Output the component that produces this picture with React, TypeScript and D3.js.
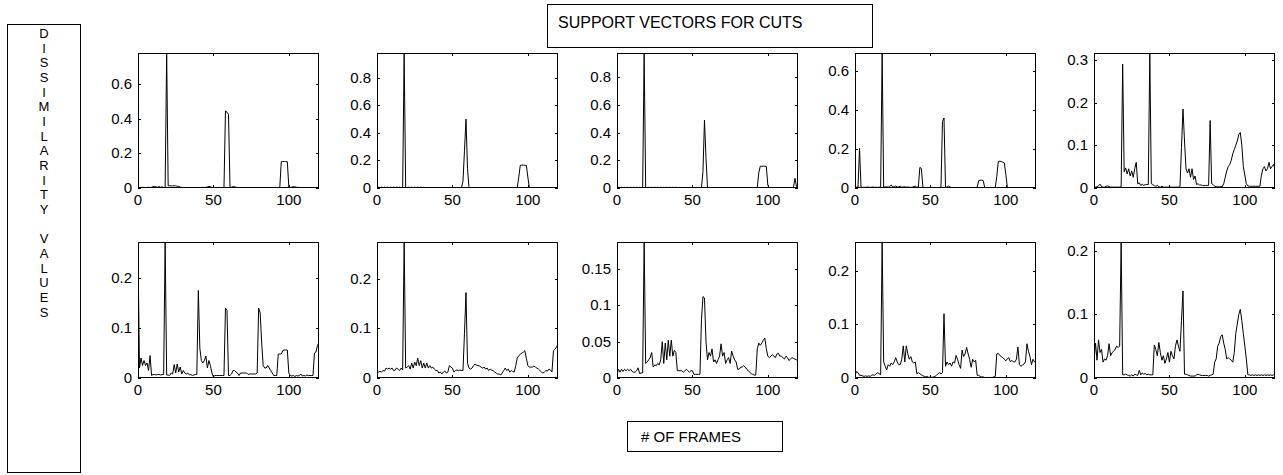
import React from "react";
import * as d3 from "d3";

// ---------- data (dissimilarity values per frame, frames 0..120) ----------
const FRAME_MAX = 120;
const X_TICKS = [0, 50, 100];

const s1 = [0.004,0.003,0.003,0.004,0.003,0.002,0.003,0.004,0.003,0.004,0.008,0.009,0.006,0.005,0.008,0.004,0.006,0.003,0.004,0.78,
0.013,0.013,0.012,0.012,0.013,0.012,0.01,0.01,0.005,0.003,0.002,0,0,0,0,0,0,0,0,0,
0.002,0.003,0.003,0.004,0.003,0.004,0.006,0.009,0.008,0.003,0.003,0.003,0.002,0.003,0.002,0.003,0.002,0.003,0.445,0.438,
0.425,0.003,0.004,0.008,0.007,0.004,0.003,0.002,0,0,0,0,0,0,0,0,0,0,0,0,
0.002,0.002,0.003,0.002,0.003,0.002,0.003,0.002,0.003,0.002,0.003,0.002,0.003,0.003,0.004,0.152,0.153,0.153,0.152,0.152,
0.005,0.004,0.005,0.008,0.006,0.004,0.004,0.003,0.001,0.001,0.001,0.001,0.001,0.001,0.001,0.001,0.001,0.001,0.001,0.001,0.001];

const s2 = [0.003,0.006,0.003,0.006,0.003,0.006,0.003,0.006,0.003,0.006,0.003,0.006,0.003,0.006,0.003,0.006,0.003,0.003,0.98,0.004,
0.003,0.006,0.003,0.006,0.003,0.006,0.003,0.006,0.003,0.006,0.003,0.001,0.001,0.001,0.001,0.001,0.001,0.001,0.001,0.001,
0.001,0.001,0.001,0.001,0.001,0.001,0.001,0.001,0.001,0.001,0.001,0.001,0.001,0.001,0.001,0.001,0.001,0.05,0.27,0.5,
0.14,0.002,0.001,0.001,0.001,0.001,0.001,0.001,0.001,0.001,0.001,0.001,0.001,0.001,0.001,0.001,0.001,0.001,0.001,0.001,
0.001,0.001,0.001,0.001,0.001,0.001,0.001,0.001,0.001,0.001,0.001,0.001,0.001,0.002,0.08,0.165,0.166,0.166,0.165,0.165,
0.08,0.002,0.001,0.001,0.001,0.001,0.001,0.001,0.001,0.001,0.001,0.001,0.001,0.001,0.001,0.001,0.001,0.001,0.001,0.001,0.001];

const s3 = [0.003,0.005,0.003,0.005,0.003,0.005,0.003,0.005,0.003,0.005,0.003,0.005,0.003,0.005,0.003,0.005,0.003,0.003,0.975,0.004,
0.003,0.005,0.003,0.005,0.003,0.005,0.003,0.005,0.003,0.005,0.003,0.005,0.003,0.005,0.003,0.005,0.003,0.005,0.003,0.005,
0.003,0.001,0.001,0.001,0.001,0.001,0.001,0.001,0.001,0.001,0.001,0.001,0.001,0.001,0.001,0.001,0.002,0.12,0.49,0.22,
0.002,0.001,0.001,0.001,0.001,0.001,0.001,0.001,0.001,0.001,0.001,0.001,0.001,0.001,0.001,0.001,0.001,0.001,0.001,0.001,
0.001,0.001,0.001,0.001,0.001,0.001,0.001,0.001,0.001,0.001,0.001,0.001,0.001,0.003,0.11,0.157,0.157,0.157,0.157,0.155,
0.02,0.002,0.001,0.001,0.001,0.001,0.001,0.001,0.001,0.001,0.001,0.001,0.001,0.001,0.001,0.001,0.001,0.005,0.07,0.01,0.004];

const s4 = [0.005,0.004,0.005,0.203,0.004,0.003,0.004,0.003,0.005,0.004,0.003,0.004,0.005,0.003,0.004,0.003,0.004,0.004,0.69,0.004,
0.005,0.006,0.004,0.008,0.015,0.005,0.006,0.01,0.005,0.006,0.009,0.004,0.005,0.006,0.004,0.005,0.004,0.003,0.004,0.008,
0.009,0.004,0.005,0.105,0.1,0.004,0.002,0.002,0.002,0.002,0.002,0.002,0.002,0.002,0.002,0.002,0.002,0.005,0.34,0.358,
0.004,0.005,0.01,0.005,0.002,0.002,0.002,0.002,0.002,0.002,0.002,0.002,0.002,0.002,0.002,0.002,0.002,0.002,0.002,0.002,
0.002,0.004,0.038,0.04,0.04,0.038,0.003,0.002,0.002,0.002,0.002,0.002,0.002,0.002,0.06,0.135,0.137,0.135,0.132,0.128,
0.07,0.003,0.002,0.002,0.002,0.002,0.002,0.002,0.002,0.002,0.002,0.002,0.002,0.002,0.002,0.002,0.002,0.002,0.002,0.002,0.002];

const s5 = [0.002,0.002,0.003,0.005,0.009,0.003,0.002,0.002,0.004,0.005,0.003,0.002,0.002,0.002,0.002,0.002,0.002,0.002,0.003,0.29,
0.038,0.047,0.033,0.045,0.028,0.04,0.025,0.045,0.06,0.01,0.012,0.006,0.009,0.006,0.008,0.008,0.008,0.316,0.01,0.008,
0.005,0.004,0.006,0.003,0.002,0.004,0.002,0.002,0.002,0.002,0.002,0.002,0.002,0.002,0.002,0.002,0.002,0.003,0.095,0.185,
0.11,0.045,0.035,0.045,0.025,0.045,0.02,0.028,0.008,0.01,0.007,0.007,0.006,0.006,0.006,0.006,0.006,0.158,0.01,0.008,
0.004,0.003,0.003,0.003,0.003,0.003,0.01,0.025,0.04,0.05,0.055,0.065,0.08,0.09,0.1,0.11,0.125,0.13,0.1,0.05,
0.03,0.01,0.005,0.004,0.004,0.004,0.004,0.004,0.004,0.004,0.004,0.03,0.045,0.05,0.04,0.045,0.06,0.045,0.05,0.055,0.045];

const s6 = [0.25,0.02,0.04,0.025,0.035,0.025,0.03,0.015,0.045,0.005,0.007,0.007,0.006,0.007,0.007,0.006,0.007,0.007,0.272,0.006,
0.006,0.005,0.01,0.008,0.027,0.01,0.028,0.012,0.022,0.008,0.015,0.01,0.008,0.01,0.006,0.007,0.005,0.006,0.007,0.007,
0.175,0.06,0.035,0.03,0.035,0.044,0.02,0.035,0.025,0.01,0.002,0.005,0.005,0.005,0.005,0.005,0.005,0.005,0.14,0.135,
0.005,0.005,0.008,0.015,0.015,0.012,0.01,0.005,0.01,0.01,0.01,0.01,0.01,0.007,0.008,0.008,0.008,0.008,0.008,0.01,
0.14,0.13,0.07,0.025,0.02,0.02,0.025,0.02,0.015,0.01,0.005,0.005,0.005,0.048,0.048,0.048,0.055,0.056,0.056,0.056,
0.01,0.005,0.004,0.005,0.003,0.005,0.004,0.005,0.008,0.004,0.005,0.004,0.006,0.005,0.005,0.005,0.005,0.05,0.052,0.065,0.072];

const s7 = [0.015,0.012,0.013,0.012,0.015,0.014,0.02,0.018,0.02,0.018,0.02,0.015,0.016,0.02,0.018,0.015,0.02,0.016,0.274,0.02,
0.022,0.025,0.018,0.03,0.02,0.032,0.025,0.04,0.025,0.035,0.02,0.03,0.02,0.03,0.02,0.025,0.02,0.022,0.018,0.015,
0.015,0.01,0.012,0.008,0.012,0.014,0.01,0.012,0.025,0.022,0.02,0.012,0.015,0.016,0.015,0.016,0.015,0.015,0.09,0.172,
0.03,0.02,0.018,0.02,0.025,0.028,0.026,0.025,0.024,0.022,0.02,0.022,0.018,0.02,0.015,0.018,0.016,0.015,0.012,0.01,
0.008,0.008,0.006,0.01,0.015,0.02,0.015,0.018,0.012,0.015,0.013,0.012,0.025,0.04,0.045,0.048,0.05,0.052,0.055,0.04,
0.025,0.022,0.022,0.022,0.024,0.022,0.02,0.018,0.015,0.012,0.01,0.012,0.015,0.014,0.018,0.016,0.012,0.055,0.058,0.062,0.068];

const s8 = [0.005,0.012,0.008,0.012,0.009,0.012,0.01,0.012,0.01,0.012,0.009,0.008,0.008,0.01,0.014,0.006,0.007,0.007,0.187,0.02,
0.022,0.025,0.028,0.035,0.015,0.018,0.017,0.02,0.018,0.025,0.05,0.02,0.048,0.025,0.052,0.03,0.052,0.03,0.038,0.035,
0.01,0.01,0.01,0.01,0.008,0.01,0.012,0.01,0.008,0.01,0.01,0.005,0.005,0.005,0.005,0.005,0.08,0.112,0.11,0.05,
0.025,0.035,0.03,0.04,0.022,0.025,0.02,0.025,0.03,0.047,0.03,0.035,0.02,0.025,0.028,0.02,0.037,0.03,0.025,0.022,
0.012,0.012,0.015,0.015,0.017,0.015,0.012,0.01,0.008,0.006,0.005,0.004,0.004,0.04,0.048,0.045,0.048,0.052,0.055,0.04,
0.03,0.028,0.03,0.032,0.03,0.028,0.033,0.034,0.03,0.03,0.028,0.026,0.03,0.028,0.024,0.026,0.028,0.027,0.026,0.025,0.026];

const s9 = [0.005,0.012,0.01,0.005,0.005,0.004,0.003,0.004,0.003,0.004,0.003,0.005,0.006,0.005,0.008,0.01,0.008,0.006,0.254,0.03,
0.022,0.015,0.025,0.022,0.028,0.025,0.03,0.038,0.03,0.025,0.025,0.035,0.06,0.03,0.06,0.045,0.035,0.04,0.03,0.028,
0.03,0.008,0.01,0.008,0.006,0.004,0.003,0.002,0.003,0.001,0.002,0.001,0.002,0.003,0.005,0.008,0.01,0.008,0.01,0.12,
0.022,0.03,0.025,0.028,0.022,0.03,0.028,0.042,0.035,0.025,0.018,0.052,0.04,0.045,0.057,0.045,0.035,0.02,0.035,0.03,
0.033,0.005,0.005,0.003,0.002,0.002,0.001,0.001,0.001,0.001,0.001,0.001,0.002,0.003,0.045,0.046,0.042,0.04,0.038,0.035,
0.032,0.036,0.038,0.03,0.033,0.03,0.03,0.035,0.058,0.025,0.022,0.024,0.026,0.03,0.064,0.05,0.04,0.025,0.035,0.03,0.028];

const s10 = [0.026,0.055,0.028,0.06,0.04,0.045,0.025,0.03,0.028,0.035,0.054,0.035,0.04,0.042,0.045,0.05,0.048,0.05,0.214,0.005,
0.005,0.006,0.005,0.004,0.003,0.005,0.003,0.006,0.005,0.004,0.012,0.005,0.008,0.006,0.007,0.005,0.006,0.005,0.005,0.005,
0.052,0.045,0.035,0.056,0.04,0.028,0.035,0.023,0.03,0.04,0.025,0.042,0.035,0.03,0.05,0.06,0.05,0.042,0.09,0.137,
0.006,0.006,0.005,0.004,0.003,0.003,0.003,0.003,0.005,0.006,0.005,0.004,0.004,0.004,0.004,0.004,0.003,0.004,0.005,0.006,
0.025,0.03,0.05,0.055,0.065,0.068,0.055,0.045,0.03,0.032,0.03,0.028,0.025,0.04,0.07,0.085,0.1,0.108,0.09,0.07,
0.05,0.03,0.005,0.005,0.004,0.005,0.004,0.005,0.004,0.005,0.004,0.005,0.004,0.005,0.004,0.005,0.004,0.005,0.004,0.005,0.004];

const SERIES = [s1, s2, s3, s4, s5, s6, s7, s8, s9, s10];
const Y_TICKS = [
  [0, 0.2, 0.4, 0.6],
  [0, 0.2, 0.4, 0.6, 0.8],
  [0, 0.2, 0.4, 0.6, 0.8],
  [0, 0.2, 0.4, 0.6],
  [0, 0.1, 0.2, 0.3],
  [0, 0.1, 0.2],
  [0, 0.1, 0.2],
  [0, 0.05, 0.1, 0.15],
  [0, 0.1, 0.2],
  [0, 0.1, 0.2],
];

const TITLE = "SUPPORT VECTORS FOR CUTS";
const XLABEL = "# OF FRAMES";
const YLABEL_LINES = ["D","I","S","S","I","M","I","L","A","R","I","T","Y"," ","V","A","L","U","E","S"];

// ---------- layout ----------
const W = 1283, H = 475;
const COL_LEFT = [138, 377, 617, 855, 1094];
const ROW_TOP = [53, 242];
const ROW_H = [135, 136];
const PW = 181;
const FONT = "'Liberation Sans', Arial, Helvetica, sans-serif";
const TICK_LEN = 3;

function fmt(v: number) {
  return String(v);
}

function Panel({ data, ticks, left, top, h }: { data: number[]; ticks: number[]; left: number; top: number; h: number }) {
  const ymax = d3.max(data) as number;
  const x = d3.scaleLinear().domain([0, FRAME_MAX]).range([left, left + PW]);
  const y = d3.scaleLinear().domain([0, ymax]).range([top + h, top]);
  const line = d3
    .line<number>()
    .x((_, i) => x(i))
    .y((d) => y(d));
  const bottom = top + h;
  const right = left + PW;
  return (
    <g>
      <defs>
        <clipPath id={`clip-${left}-${top}`}>
          <rect x={left} y={top} width={PW} height={h} />
        </clipPath>
      </defs>
      <path d={line(data) || ""} fill="none" stroke="#000" strokeWidth={1} clipPath={`url(#clip-${left}-${top})`} />
      <rect x={left + 0.5} y={top + 0.5} width={PW - 1} height={h - 1} fill="none" stroke="#000" strokeWidth={1} />
      {X_TICKS.map((t) => {
        const xp = Math.round(x(t)) + 0.5;
        return (
          <g key={"x" + t}>
            <line x1={xp} x2={xp} y1={bottom} y2={bottom - TICK_LEN} stroke="#000" />
            <line x1={xp} x2={xp} y1={top} y2={top + TICK_LEN} stroke="#000" />
            <text x={x(t)} y={bottom + 17} textAnchor="middle" fontSize={15} fontFamily={FONT} fill="#000">
              {fmt(t)}
            </text>
          </g>
        );
      })}
      {ticks.map((t) => {
        const yp = Math.round(y(t)) + 0.5;
        return (
          <g key={"y" + t}>
            <line x1={left} x2={left + TICK_LEN} y1={yp} y2={yp} stroke="#000" />
            <line x1={right} x2={right - TICK_LEN} y1={yp} y2={yp} stroke="#000" />
            <text x={left - 6} y={y(t) + 5} textAnchor="end" fontSize={15} fontFamily={FONT} fill="#000">
              {fmt(t)}
            </text>
          </g>
        );
      })}
    </g>
  );
}

export default function App() {
  return (
    <svg width={W} height={H} style={{ position: "absolute", left: 0, top: 0, background: "#fff" }}>
      <rect x={0} y={0} width={W} height={H} fill="#fff" />
      {SERIES.map((s, i) => {
        const row = Math.floor(i / 5);
        const col = i % 5;
        return <Panel key={i} data={s} ticks={Y_TICKS[i]} left={COL_LEFT[col]} top={ROW_TOP[row]} h={ROW_H[row]} />;
      })}
      {/* title box */}
      <rect x={547.5} y={4.5} width={325} height={43} fill="#fff" stroke="#000" strokeWidth={1} />
      <text x={558} y={27.5} fontSize={16} fontFamily={FONT} fill="#000">
        {TITLE}
      </text>
      {/* y label box */}
      <rect x={7.5} y={24.5} width={73} height={448} fill="#fff" stroke="#000" strokeWidth={1} />
      {YLABEL_LINES.map((c, i) => (
        <text key={i} x={44} y={38 + i * 14.66} textAnchor="middle" fontSize={13} fontFamily={FONT} fill="#000">
          {c}
        </text>
      ))}
      {/* x label box */}
      <rect x={627.5} y={421.5} width={155} height={30} fill="#fff" stroke="#000" strokeWidth={1} />
      <text x={641} y={441.5} fontSize={15} fontFamily={FONT} fill="#000">
        {XLABEL}
      </text>
    </svg>
  );
}
